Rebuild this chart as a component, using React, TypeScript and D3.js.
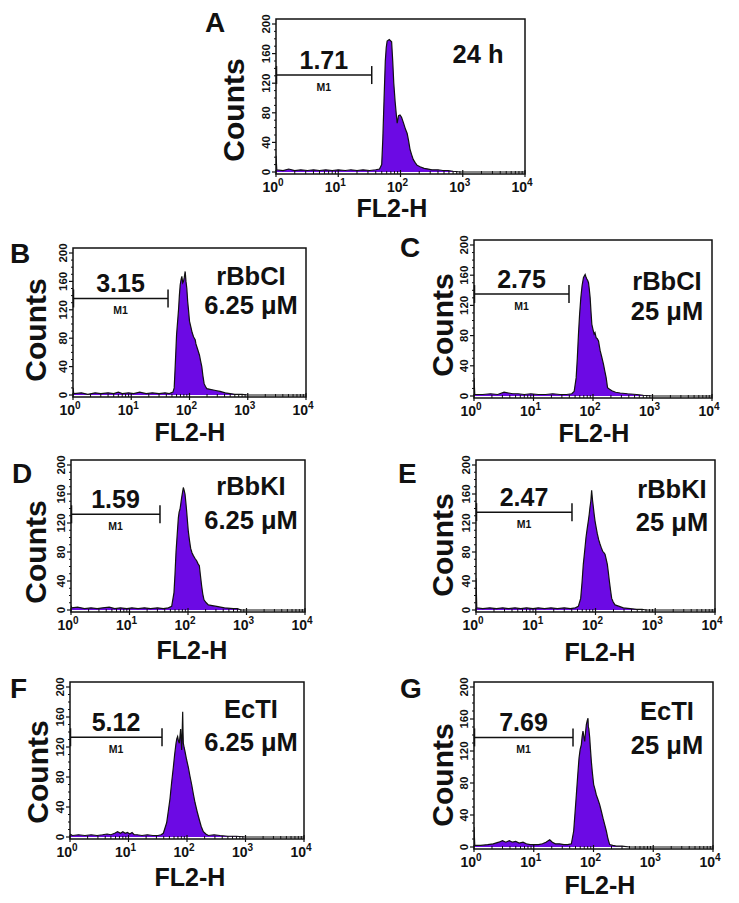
import React from 'react';
import * as d3 from 'd3';

// ---------- data ----------
const panelLetters = ['A', 'B', 'C', 'D', 'E', 'F', 'G'];
const markerPercents = ['1.71', '3.15', '2.75', '1.59', '2.47', '5.12', '7.69'];
const treatmentLine1 = ['24 h', 'rBbCI', 'rBbCI', 'rBbKI', 'rBbKI', 'EcTI', 'EcTI'];
const treatmentLine2 = ['', '6.25 μM', '25 μM', '6.25 μM', '25 μM', '6.25 μM', '25 μM'];
const markerName = 'M1';
const markerGateEnd = [34.5, 42.8, 39.5, 33.2, 40.4, 37.4, 45.4];
const markerLevel = [131, 136, 135, 132, 135, 133, 137];
const yTicks = [0, 40, 80, 120, 160, 200];
const xDecades = [1, 10, 100, 1000, 10000];
const xTickExponents = ['0', '1', '2', '3', '4'];
const xAxisTitle = 'FL2-H';
const yAxisTitle = 'Counts';

// histograms: [FL2-H value, counts]
const histA: [number, number][] = [
  [1, 22], [1.03, 3], [1.3, 2], [1.6, 4], [2, 2], [2.5, 3], [3.2, 2], [4, 3], [5, 2], [6.3, 3],
  [8, 2], [10, 3], [13, 2], [16, 3], [20, 2], [25, 3], [32, 2], [40, 3], [46, 4], [49.9, 10],
  [52, 45], [54.5, 100], [57, 150], [59, 168], [61, 177], [66, 179], [72, 176], [75, 150],
  [78, 120], [82, 95], [86.9, 72], [88.5, 66], [90.2, 70], [93, 76], [98.2, 77], [104, 74],
  [112, 66], [120, 58], [128, 52], [135, 42], [142, 31], [150, 24], [160, 17], [171, 13],
  [185, 9], [206, 7], [240, 5], [280, 4], [320, 3], [400, 3], [480, 2], [580, 2], [700, 1],
  [900, 0], [10000, 0],
];
const histB: [number, number][] = [
  [1, 10], [1.03, 2], [1.4, 3], [1.8, 1], [2.4, 3], [3, 2], [4, 3], [5, 2], [6, 4], [7, 2],
  [9, 3], [11, 2], [14, 4], [18, 2], [23, 3], [30, 2], [38, 3], [45, 2], [52, 4], [54.6, 10],
  [56.8, 40], [60, 85], [64.8, 120], [67, 140], [69.2, 155], [71.5, 162], [73.9, 167],
  [76.5, 158], [78.9, 160], [81.5, 166], [84.3, 174], [87, 160], [90, 150], [93, 132],
  [96.1, 120], [100, 104], [105.4, 96], [111, 88], [117.2, 82], [121, 80], [125.1, 78],
  [129, 72], [133.6, 68], [141, 62], [148.4, 56], [155, 48], [162.6, 40], [170, 27],
  [178.3, 16], [188, 12], [198.1, 9], [225, 8], [257.7, 7], [295, 6], [335.6, 5], [410, 3],
  [497.7, 2], [600, 1], [800, 1], [1000, 0], [10000, 0],
];
const histC: [number, number][] = [
  [1, 24], [1.03, 2], [1.4, 2], [1.9, 3], [2.5, 2], [3.2, 5], [3.8, 4], [4.5, 3], [5.5, 3],
  [7, 2], [9, 3], [12, 2], [16, 2], [21, 3], [28, 2], [36, 2], [44, 3], [48.2, 6], [52.1, 24],
  [54.5, 50], [57, 82], [59.5, 108], [62.4, 130], [65.5, 146], [69.2, 157], [73.8, 161],
  [76, 158], [78.8, 155], [81.5, 153], [84, 150], [86.5, 142], [89.6, 130], [92.5, 112],
  [95.6, 95], [100, 88], [104.6, 82], [108, 84], [113.1, 77], [118, 76], [123.8, 73],
  [128, 66], [132, 60], [140, 52], [150.2, 42], [158, 33], [166.6, 24], [175.5, 11],
  [190, 9], [207.5, 7], [240, 5], [286.6, 4], [380, 3], [546.7, 2], [700, 1], [1000, 0],
  [10000, 0],
];
const histD: [number, number][] = [
  [1, 6], [1.03, 3], [1.3, 4], [1.7, 2], [2.2, 3], [2.8, 2], [3.5, 3], [4.5, 4], [5.6, 2],
  [7, 3], [9, 2], [11, 3], [14, 2], [18, 3], [23, 2], [30, 3], [38, 2], [46, 3], [52.6, 5],
  [57.6, 24], [60, 50], [62.4, 80], [65.5, 105], [68.4, 127], [70.5, 135], [73, 139],
  [75.5, 147], [77.9, 155], [80.5, 162], [83.2, 169], [86, 165], [88.9, 160], [92, 148],
  [94.9, 136], [98, 122], [101.4, 108], [106, 96], [111.1, 85], [117, 79], [123.4, 75],
  [132, 71], [140.6, 68], [148, 64], [156.2, 61], [163, 48], [171.3, 33], [179, 22],
  [187.7, 14], [205, 10], [222.8, 7], [260, 6], [309.3, 5], [420, 3], [595.4, 2], [700, 2],
  [800, 0], [10000, 0],
];
const histE: [number, number][] = [
  [1, 44], [1.03, 3], [1.3, 2], [1.7, 3], [2.2, 2], [2.8, 3], [3.5, 2], [4.5, 3], [5.6, 2],
  [7, 3], [9, 2], [11, 3], [14, 2], [18, 3], [23, 2], [30, 3], [38, 2], [46, 3], [51.6, 5],
  [56.5, 16], [59.5, 38], [62.5, 63], [66, 82], [69.3, 100], [72.5, 112], [75.9, 123],
  [78.5, 132], [80.9, 142], [83.5, 150], [86.2, 165], [89, 152], [92, 142], [95, 132],
  [98.1, 123], [102.5, 114], [107.4, 105], [113, 97], [119, 91], [125, 86], [131.8, 81],
  [138, 79], [144.3, 77], [151, 70], [157.8, 63], [164, 52], [170.6, 40], [178, 28],
  [186.6, 16], [198, 11], [212.3, 7], [250, 5], [292.3, 3], [380, 2], [488.7, 1], [600, 1],
  [700, 0], [10000, 0],
];
const histF: [number, number][] = [
  [1, 4], [1.1, 2], [1.4, 3], [1.8, 2], [2.3, 3], [2.9, 2], [3.6, 3], [4.3, 4], [5, 3],
  [5.8, 5], [6.5, 7], [7.3, 5], [8, 7], [8.8, 5], [9.6, 6], [10.5, 4], [11.5, 6], [12.5, 3],
  [14, 3], [17, 2], [21, 3], [26, 2], [32, 2], [36, 3], [39.4, 5], [44.9, 19], [48, 35],
  [51.2, 51], [54.5, 72], [58.4, 93], [61.5, 110], [64.9, 125], [67, 131], [69.2, 134],
  [71.5, 128], [73.9, 125], [76, 135], [77.9, 144], [79.5, 128], [81.1, 116], [82.8, 140],
  [84.4, 167], [85.5, 140], [86.6, 125], [89.5, 119], [92.4, 114], [98.5, 103], [105.4, 93],
  [112.5, 81], [120.2, 70], [128, 58], [137, 46], [149, 34], [162.4, 23], [175, 14],
  [190.3, 7], [210, 4], [231.5, 2], [290, 3], [366.5, 2], [500, 1], [700, 1], [1000, 0],
  [10000, 0],
];
const histG: [number, number][] = [
  [1, 25], [1.03, 2], [1.3, 2], [1.7, 3], [2.1, 4], [2.6, 6], [3, 8], [3.4, 6], [3.9, 8],
  [4.4, 6], [5, 7], [5.7, 5], [6.6, 6], [7.5, 4], [8.7, 3], [10, 3], [12, 3], [14, 4],
  [16, 6], [18.5, 9], [20.5, 6], [23, 4], [27, 4], [32, 3], [37, 3], [42.6, 4], [46.6, 20],
  [49, 42], [51.6, 65], [54.5, 90], [57.2, 111], [59.8, 122], [62.6, 128], [64.5, 138],
  [66.7, 145], [69, 138], [71.2, 132], [73.5, 143], [75.9, 153], [78.5, 158], [80.9, 161],
  [82, 150], [83.5, 148], [86.3, 137], [89, 122], [92, 107], [96, 92], [100.7, 78],
  [106, 72], [111.6, 65], [118, 60], [126.9, 53], [135, 45], [144.3, 36], [154, 28],
  [164, 20], [175, 10], [186.6, 3], [210, 2], [241, 1], [300, 1], [402.5, 0], [10000, 0],
];
const histograms = [histA, histB, histC, histD, histE, histF, histG];

// ---------- layout ----------
type Layout = {
  x0: number; x1: number; top: number; bottom: number;
  letterX: number; letterY: number;
  countsX: number; countsY: number;
  fl2X: number; fl2Y: number;
  treatX: number; treat1Y: number; treat2Y: number;
};
const layouts: Layout[] = [
  { x0: 276, x1: 525, top: 19, bottom: 174, letterX: 205, letterY: 32, countsX: 244, countsY: 110, fl2X: 392, fl2Y: 217, treatX: 478, treat1Y: 63, treat2Y: 0 },
  { x0: 73, x1: 306, top: 248, bottom: 397, letterX: 10, letterY: 263, countsX: 46, countsY: 330, fl2X: 190, fl2Y: 441, treatX: 251, treat1Y: 285, treat2Y: 314 },
  { x0: 474, x1: 712, top: 240, bottom: 398, letterX: 400, letterY: 257, countsX: 453, countsY: 325, fl2X: 594, fl2Y: 442, treatX: 667, treat1Y: 290, treat2Y: 320 },
  { x0: 71, x1: 305, top: 460, bottom: 612, letterX: 12, letterY: 483, countsX: 46, countsY: 552, fl2X: 192, fl2Y: 659, treatX: 251, treat1Y: 495, treat2Y: 529 },
  { x0: 476, x1: 715, top: 460, bottom: 612, letterX: 398, letterY: 483, countsX: 453, countsY: 545, fl2X: 600, fl2Y: 661, treatX: 672, treat1Y: 498, treat2Y: 531 },
  { x0: 70, x1: 304, top: 682, bottom: 839, letterX: 10, letterY: 698, countsX: 48, countsY: 772, fl2X: 190, fl2Y: 886, treatX: 251, treat1Y: 718, treat2Y: 751 },
  { x0: 474, x1: 713, top: 682, bottom: 849, letterX: 400, letterY: 698, countsX: 453, countsY: 775, fl2X: 600, fl2Y: 894, treatX: 667, treat1Y: 720, treat2Y: 754 },
];

const FONT = '"Liberation Sans", Arial, Helvetica, sans-serif';
const PURPLE = '#6c0ae4';

function Panel({ i }: { i: number }) {
  const L = layouts[i];
  const data = histograms[i];
  const x = d3.scaleLog().domain([1, 1e4]).range([L.x0, L.x1]);
  const y = d3.scaleLinear().domain([0, 200]).range([L.bottom - 2, L.top + 5]);
  const area = d3.area<[number, number]>().x(d => x(d[0])).y0(y(0)).y1(d => y(d[1]));
  const line = d3.line<[number, number]>().x(d => x(d[0])).y(d => y(d[1]));
  const clipId = `clip-${i}`;
  const minorX = x.ticks().filter(t => !xDecades.includes(t));
  const minorY = d3.range(0, 201, 10).filter(t => !yTicks.includes(t));
  const gateX1 = x(markerGateEnd[i]);
  const gateY = y(markerLevel[i]);
  const gateMid = (L.x0 + gateX1) / 2;
  return (
    <g>
      <defs>
        <clipPath id={clipId}>
          <rect x={L.x0} y={L.top} width={L.x1 - L.x0} height={L.bottom - L.top} />
        </clipPath>
      </defs>
      <g clipPath={`url(#${clipId})`}>
        <path d={area(data) || ''} fill={PURPLE} />
        <path d={line(data) || ''} fill="none" stroke="#111" strokeWidth={1.2} />
      </g>
      <rect x={L.x0} y={L.top} width={L.x1 - L.x0} height={L.bottom - L.top} fill="none" stroke="#111" strokeWidth={1.5} />
      {/* x ticks */}
      {xDecades.map((t, k) => (
        <g key={`xt${k}`}>
          <line x1={x(t)} x2={x(t)} y1={L.bottom - 4} y2={L.bottom + 3} stroke="#111" strokeWidth={1.2} />
          <text x={x(t) - 3} y={L.bottom + 18} fontFamily={FONT} fontWeight="bold" fontSize={14} textAnchor="middle" fill="#111">
            10<tspan fontSize={10} dy={-6}>{xTickExponents[k]}</tspan>
          </text>
        </g>
      ))}
      {minorX.map((t, k) => (
        <line key={`xm${k}`} x1={x(t)} x2={x(t)} y1={L.bottom - 3} y2={L.bottom} stroke="#111" strokeWidth={1} />
      ))}
      {/* y ticks */}
      {yTicks.map((t, k) => (
        <g key={`yt${k}`}>
          <line x1={L.x0 - 4} x2={L.x0} y1={y(t)} y2={y(t)} stroke="#111" strokeWidth={1.2} />
          <text transform={`translate(${L.x0 - 6},${y(t)}) rotate(-90)`} fontFamily={FONT} fontWeight="bold" fontSize={11.5} textAnchor="middle" fill="#111">
            {t}
          </text>
        </g>
      ))}
      {minorY.map((t, k) => (
        <line key={`ym${k}`} x1={L.x0 - 2} x2={L.x0} y1={y(t)} y2={y(t)} stroke="#111" strokeWidth={1} />
      ))}
      {/* marker */}
      <line x1={L.x0} x2={gateX1} y1={gateY} y2={gateY} stroke="#111" strokeWidth={1.5} />
      <line x1={L.x0 + 0.5} x2={L.x0 + 0.5} y1={gateY - 9} y2={gateY + 9} stroke="#111" strokeWidth={1.5} />
      <line x1={gateX1} x2={gateX1} y1={gateY - 9} y2={gateY + 9} stroke="#111" strokeWidth={1.5} />
      <text x={gateMid} y={gateY - 6} fontFamily={FONT} fontWeight="bold" fontSize={25} textAnchor="middle" fill="#111">
        {markerPercents[i]}
      </text>
      <text x={gateMid} y={gateY + 16} fontFamily={FONT} fontWeight="bold" fontSize={10.5} textAnchor="middle" fill="#111">
        {markerName}
      </text>
      {/* treatment */}
      <text x={L.treatX} y={L.treat1Y} fontFamily={FONT} fontWeight="bold" fontSize={25.5} textAnchor="middle" fill="#111">
        {treatmentLine1[i]}
      </text>
      {treatmentLine2[i] && (
        <text x={L.treatX} y={L.treat2Y} fontFamily={FONT} fontWeight="bold" fontSize={25.5} textAnchor="middle" fill="#111">
          {treatmentLine2[i]}
        </text>
      )}
      {/* titles */}
      <text x={L.letterX} y={L.letterY} fontFamily={FONT} fontWeight="bold" fontSize={28} fill="#111">
        {panelLetters[i]}
      </text>
      <text transform={`translate(${L.countsX},${L.countsY}) rotate(-90)`} fontFamily={FONT} fontWeight="bold" fontSize={30} textAnchor="middle" fill="#111">
        {yAxisTitle}
      </text>
      <text x={L.fl2X} y={L.fl2Y} fontFamily={FONT} fontWeight="bold" fontSize={25} textAnchor="middle" fill="#111">
        {xAxisTitle}
      </text>
    </g>
  );
}

export default function App() {
  return (
    <svg width={739} height={903} viewBox="0 0 739 903" style={{ position: 'absolute', left: 0, top: 0, background: '#fff' }}>
      <rect width={739} height={903} fill="#fff" />
      {layouts.map((_, i) => (
        <Panel key={i} i={i} />
      ))}
    </svg>
  );
}
